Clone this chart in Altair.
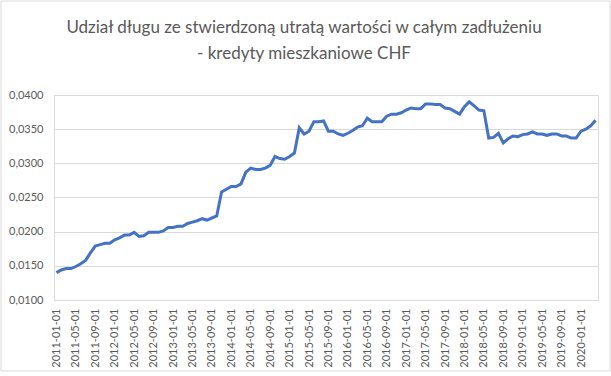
import altair as alt
import pandas as pd

dates = pd.date_range("2011-01-01", periods=112, freq="MS").strftime("%Y-%m-%d").tolist()
tick_labels = dates[::4]

values = [
    0.0140, 0.0144, 0.0146, 0.0146, 0.0149, 0.0153, 0.0158, 0.0169, 0.0179, 0.0181,
    0.0183, 0.0183, 0.0188, 0.0191, 0.0195, 0.0195, 0.0199, 0.0193, 0.0194, 0.0199,
    0.0199, 0.0199, 0.0201, 0.0206, 0.0206, 0.0208, 0.0208, 0.0212, 0.0214, 0.0216,
    0.0219, 0.0217, 0.0220, 0.0223, 0.0258, 0.0262, 0.0266, 0.0266, 0.0270, 0.0287,
    0.0293, 0.0291, 0.0291, 0.0293, 0.0297, 0.0310, 0.0307, 0.0306, 0.0310, 0.0315,
    0.0352, 0.0343, 0.0347, 0.0361, 0.0361, 0.0362, 0.0347, 0.0347, 0.0343, 0.0341,
    0.0344, 0.0348, 0.0353, 0.0355, 0.0366, 0.0361, 0.0361, 0.0361, 0.0369, 0.0372,
    0.0372, 0.0374, 0.0378, 0.0381, 0.0380, 0.0380, 0.0387, 0.0387, 0.0386, 0.0386,
    0.0381, 0.0380, 0.0376, 0.0372, 0.0383, 0.0390, 0.0384, 0.0378, 0.0377, 0.0337,
    0.0338, 0.0344, 0.0330, 0.0336, 0.0340, 0.0339, 0.0342, 0.0343, 0.0346, 0.0343,
    0.0343, 0.0341, 0.0343, 0.0343, 0.0340, 0.0340, 0.0337, 0.0337, 0.0347, 0.0350,
    0.0355, 0.0363,
]
y_ticks = [0.010, 0.015, 0.020, 0.025, 0.030, 0.035, 0.040]

title_lines = ["Udział długu ze stwierdzoną utratą wartości w całym zadłużeniu",
               "- kredyty mieszkaniowe CHF"]

df = pd.DataFrame({"date": dates, "value": values})

FONT = "Lato"
GREY = "#595959"

line = alt.Chart(df).mark_line(color="#4472C4", strokeWidth=3).encode(
    x=alt.X("date:O", sort=None, title=None,
            scale=alt.Scale(type="point", padding=0.5),
            axis=alt.Axis(values=tick_labels, labelAngle=-90, ticks=False,
                          domain=True, domainColor="#d9d9d9", grid=False,
                          labelPadding=8, labelFont=FONT, labelFontSize=11,
                          labelColor=GREY)),
    y=alt.Y("value:Q", title=None,
            scale=alt.Scale(domain=[0.01, 0.04], nice=False, zero=False),
            axis=alt.Axis(values=y_ticks, ticks=False, domain=False,
                          gridColor="#d9d9d9", labelPadding=11,
                          labelExpr="replace(format(datum.value, '.4f'), '.', ',')",
                          labelFont=FONT, labelFontSize=11, labelColor=GREY)),
)

frame = alt.Chart(pd.DataFrame({"a": [0]})).mark_rect(
    fill=None, stroke="#d9d9d9", strokeWidth=1
).encode(x=alt.value(-53), x2=alt.value(556), y=alt.value(-94), y2=alt.value(276))

chart = alt.layer(frame, line).properties(
    width=544, height=205,
    autosize=alt.AutoSizeParams(type="none"),
    padding={"left": 54, "top": 95, "right": 13, "bottom": 76},
    title=alt.Title(title_lines, anchor="middle", frame="group", dx=-22,
                    font=FONT, fontSize=17, fontWeight="normal", color=GREY,
                    lineHeight=26, offset=-62),
).configure_view(stroke=None).configure(background="white")

chart.save("out.html", embed_options={"renderer": "svg", "actions": False})
